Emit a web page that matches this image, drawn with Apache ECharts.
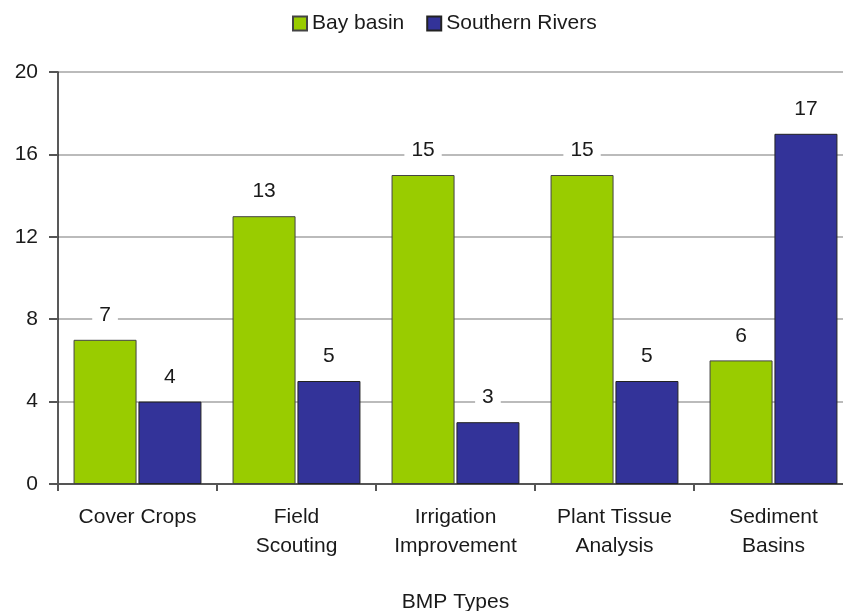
<!DOCTYPE html>
<html>
<head>
<meta charset="utf-8">
<script src="https://cdn.jsdelivr.net/npm/echarts@6/dist/echarts.min.js"></script>
<style>
  html, body { margin: 0; padding: 0; background: #fff; overflow: hidden; }
  #main { width: 853px; height: 611px; }
</style>
</head>
<body>
<div id="main"></div>
<script>
const categories = ['Cover Crops', 'Field\nScouting', 'Irrigation\nImprovement', 'Plant Tissue\nAnalysis', 'Sediment\nBasins']
const bayBasin = [7, 13, 15, 15, 6]
const southernRivers = [4, 5, 3, 5, 17]

const font = 'Liberation Sans, Arial, sans-serif'
const chart = echarts.init(document.getElementById('main'))

const labelStyle = {
  show: true,
  position: 'top',
  distance: 12,
  fontFamily: font,
  fontSize: 21,
  color: '#1a1a1a',
  backgroundColor: '#fff',
  padding: [2, 7]
}

const option = {
  animation: false,
  textStyle: { fontFamily: font },
  legend: {
    top: 8,
    left: 287,
    icon: 'rect',
    itemWidth: 14,
    itemHeight: 14,
    itemGap: 22,
    textStyle: { fontFamily: font, fontSize: 21, color: '#1a1a1a' },
    data: ['Bay basin', 'Southern Rivers']
  },
  grid: { left: 58, right: 0, top: 72, bottom: 127, containLabel: false, outerBoundsMode: 'none' },
  xAxis: {
    type: 'category',
    data: categories,
    name: 'BMP Types',
    nameLocation: 'middle',
    nameGap: 108,
    nameTextStyle: { fontFamily: font, fontSize: 21, color: '#1a1a1a' },
    axisLine: { lineStyle: { color: '#555', width: 2 } },
    axisTick: { show: true, length: 7, lineStyle: { color: '#555', width: 2 } },
    axisLabel: { interval: 0, fontFamily: font, fontSize: 21, color: '#1a1a1a', margin: 19, lineHeight: 29 }
  },
  yAxis: {
    type: 'value',
    min: 0,
    max: 20,
    interval: 4,
    axisLine: { show: true, lineStyle: { color: '#222', width: 1.5 } },
    axisTick: { show: true, length: 9, lineStyle: { color: '#555', width: 2 } },
    axisLabel: { fontFamily: font, fontSize: 21, color: '#1a1a1a', margin: 20 },
    splitLine: { lineStyle: { color: '#bbb', width: 2 } }
  },
  series: [
    {
      name: 'Bay basin',
      type: 'bar',
      data: bayBasin,
      barWidth: 63,
      barGap: '3%',
      itemStyle: { color: '#99cc00', borderColor: '#444', borderWidth: 1 },
      label: labelStyle
    },
    {
      name: 'Southern Rivers',
      type: 'bar',
      data: southernRivers,
      barWidth: 63,
      itemStyle: { color: '#333399', borderColor: '#222', borderWidth: 1 },
      label: labelStyle
    }
  ]
}

chart.setOption(option)
</script>
</body>
</html>
